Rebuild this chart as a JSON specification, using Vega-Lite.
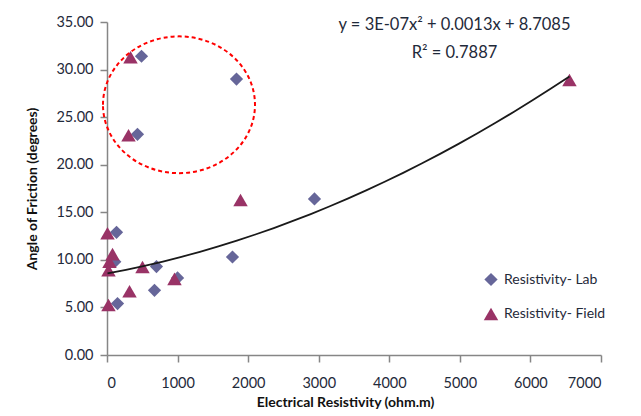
{
  "$schema": "https://vega.github.io/schema/vega-lite/v6.json",
  "width": 494,
  "height": 333,
  "autosize": "none",
  "padding": {"left": 107, "top": 22, "right": 40, "bottom": 61},
  "background": "white",
  "config": {
    "font": "Lato",
    "view": {"stroke": null},
    "axis": {
      "grid": false,
      "domainColor": "#868686",
      "tickColor": "#868686",
      "domainWidth": 1.5,
      "tickWidth": 1.5,
      "tickSize": 7,
      "labelFont": "Lato",
      "labelFontSize": 14.5,
      "labelColor": "#1f2a3a",
      "titleFont": "Lato",
      "titleFontSize": 14,
      "titleFontWeight": "bold",
      "titleColor": "#111111"
    },
    "legend": {
      "labelFont": "Lato",
      "labelFontSize": 14,
      "labelColor": "#1f2a3a"
    }
  },
  "datasets": {
    "measurements": [
      {"series": "Resistivity- Lab", "resistivity": 489, "angle": 31.4, "outlier": true},
      {"series": "Resistivity- Lab", "resistivity": 1835, "angle": 29.0, "outlier": true},
      {"series": "Resistivity- Lab", "resistivity": 432, "angle": 23.2, "outlier": true},
      {"series": "Resistivity- Lab", "resistivity": 135, "angle": 12.9, "outlier": false},
      {"series": "Resistivity- Lab", "resistivity": 2940, "angle": 16.4, "outlier": false},
      {"series": "Resistivity- Lab", "resistivity": 1778, "angle": 10.3, "outlier": false},
      {"series": "Resistivity- Lab", "resistivity": 701, "angle": 9.3, "outlier": false},
      {"series": "Resistivity- Lab", "resistivity": 673, "angle": 6.8, "outlier": false},
      {"series": "Resistivity- Lab", "resistivity": 1000, "angle": 8.1, "outlier": false},
      {"series": "Resistivity- Lab", "resistivity": 149, "angle": 5.4, "outlier": false},
      {"series": "Resistivity- Lab", "resistivity": 110, "angle": 9.8, "outlier": false},
      {"series": "Resistivity- Field", "resistivity": 333, "angle": 31.3, "outlier": true},
      {"series": "Resistivity- Field", "resistivity": 305, "angle": 23.1, "outlier": true},
      {"series": "Resistivity- Field", "resistivity": 1892, "angle": 16.3, "outlier": false},
      {"series": "Resistivity- Field", "resistivity": 6553, "angle": 28.9, "outlier": false},
      {"series": "Resistivity- Field", "resistivity": 7, "angle": 12.8, "outlier": false},
      {"series": "Resistivity- Field", "resistivity": 35, "angle": 9.8, "outlier": false},
      {"series": "Resistivity- Field", "resistivity": 78, "angle": 10.6, "outlier": false},
      {"series": "Resistivity- Field", "resistivity": 21, "angle": 8.9, "outlier": false},
      {"series": "Resistivity- Field", "resistivity": 503, "angle": 9.25, "outlier": false},
      {"series": "Resistivity- Field", "resistivity": 319, "angle": 6.7, "outlier": false},
      {"series": "Resistivity- Field", "resistivity": 956, "angle": 8.0, "outlier": false},
      {"series": "Resistivity- Field", "resistivity": 21, "angle": 5.25, "outlier": false}
    ],
    "highlight": [
      {"resistivity": 1020, "angle": 26.3}
    ],
    "fit": [
      {"equation": "y = 3E-07x² + 0.0013x + 8.7085", "r2": "R² = 0.7887"}
    ]
  },
  "layer": [
    {
      "data": {"name": "measurements"},
      "mark": {"type": "point", "filled": true, "opacity": 1},
      "encoding": {
        "x": {
          "field": "resistivity",
          "type": "quantitative",
          "scale": {"domain": [0, 7000], "nice": false, "zero": true},
          "axis": {
            "title": "Electrical Resistivity (ohm.m)",
            "values": [0, 1000, 2000, 3000, 4000, 5000, 6000, 7000],
            "format": "d",
            "labelPadding": 14,
            "titlePadding": 6,
            "titleX": 238
          }
        },
        "y": {
          "field": "angle",
          "type": "quantitative",
          "scale": {"domain": [0, 35], "nice": false},
          "axis": {
            "title": "Angle of Friction (degrees)",
            "values": [0, 5, 10, 15, 20, 25, 30, 35],
            "format": ".2f",
            "labelPadding": 7,
            "titlePadding": 16
          }
        },
        "color": {
          "field": "series",
          "type": "nominal",
          "scale": {
            "domain": ["Resistivity- Lab", "Resistivity- Field"],
            "range": ["#666699", "#993366"]
          },
          "legend": {
            "title": null,
            "orient": "none",
            "legendX": 376,
            "legendY": 250,
            "padding": 0,
            "rowPadding": 19,
            "labelOffset": 5,
            "symbolSize": 185
          }
        },
        "shape": {
          "field": "series",
          "type": "nominal",
          "scale": {
            "domain": ["Resistivity- Lab", "Resistivity- Field"],
            "range": ["diamond", "triangle-up"]
          },
          "legend": {
            "title": null,
            "orient": "none",
            "legendX": 376,
            "legendY": 250,
            "padding": 0,
            "rowPadding": 19,
            "labelOffset": 5,
            "symbolSize": 185
          }
        },
        "size": {
          "field": "series",
          "type": "nominal",
          "scale": {
            "domain": ["Resistivity- Lab", "Resistivity- Field"],
            "range": [175, 210]
          },
          "legend": null
        }
      }
    },
    {
      "data": {"name": "highlight"},
      "mark": {
        "type": "point",
        "shape": "M-1,0A1,0.9,0,1,1,1,0A1,0.9,0,1,1,-1,0Z",
        "size": 23104,
        "filled": false,
        "stroke": "#ff0000",
        "strokeWidth": 2,
        "strokeDash": [4, 3],
        "opacity": 1
      },
      "encoding": {
        "x": {"field": "resistivity", "type": "quantitative"},
        "y": {"field": "angle", "type": "quantitative"}
      }
    },
    {
      "data": {"name": "measurements"},
      "transform": [
        {"filter": "!datum.outlier"},
        {"regression": "angle", "on": "resistivity", "method": "poly", "order": 2}
      ],
      "mark": {"type": "line", "color": "#1a1a1a", "strokeWidth": 1.8},
      "encoding": {
        "x": {"field": "resistivity", "type": "quantitative"},
        "y": {"field": "angle", "type": "quantitative"}
      }
    },
    {
      "data": {"name": "fit"},
      "mark": {"type": "text", "fontSize": 16.5, "color": "#1f2a3a", "align": "center", "baseline": "middle"},
      "encoding": {
        "x": {"datum": 4924, "type": "quantitative"},
        "y": {"datum": 34.7, "type": "quantitative"},
        "text": {"field": "equation", "type": "nominal"}
      }
    },
    {
      "data": {"name": "fit"},
      "mark": {"type": "text", "fontSize": 16.5, "color": "#1f2a3a", "align": "center", "baseline": "middle"},
      "encoding": {
        "x": {"datum": 4924, "type": "quantitative"},
        "y": {"datum": 31.7, "type": "quantitative"},
        "text": {"field": "r2", "type": "nominal"}
      }
    }
  ]
}
